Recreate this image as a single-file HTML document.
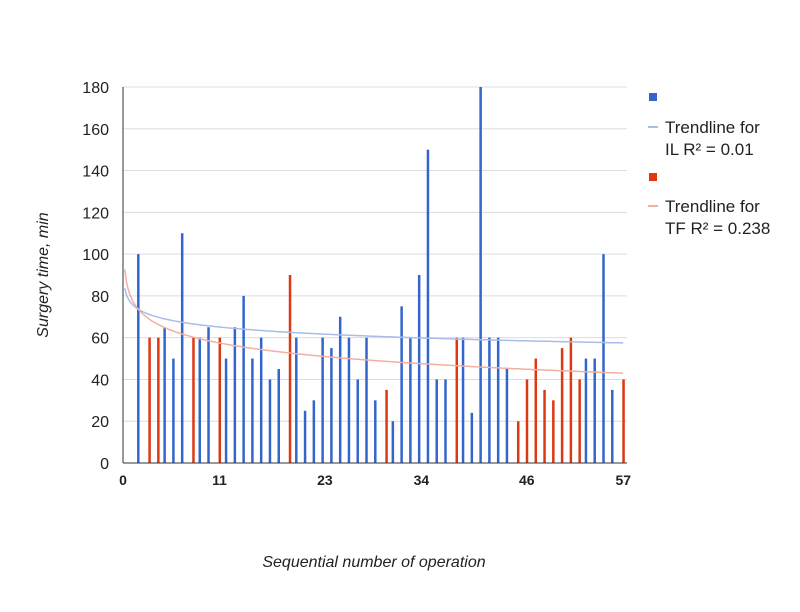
<!DOCTYPE html>
<html><head><meta charset="utf-8"><style>
body{margin:0;background:#fff;font-family:"Liberation Sans",sans-serif}
svg{display:block}
</style></head><body>
<svg id="chart" width="800" height="612" xmlns="http://www.w3.org/2000/svg">
<g id="grid"></g>
<g id="ylab" font-size="16" fill="#222" text-anchor="end"></g>
<g id="xlab" font-size="14" font-weight="bold" fill="#222" text-anchor="middle"></g>
<g id="bars"></g>
<g id="trend"></g>
<line x1="123" y1="87" x2="123" y2="463" stroke="#333" stroke-width="1"/>
<line x1="123" y1="463" x2="627" y2="463" stroke="#333" stroke-width="1"/>
<text x="48" y="275" transform="rotate(-90 48 275)" text-anchor="middle" font-size="16" font-style="italic" fill="#222">Surgery time, min</text>
<text x="374" y="567" text-anchor="middle" font-size="16" font-style="italic" fill="#222">Sequential number of operation</text>
<g font-size="17" fill="#222">
<rect x="649" y="93" width="8" height="8" fill="#3366cc"/>
<line x1="648" y1="127" x2="658" y2="127" stroke="#a9bde8" stroke-width="2"/>
<text x="665" y="133">Trendline for</text>
<text x="665" y="155">IL R² = 0.01</text>
<rect x="649" y="173" width="8" height="8" fill="#dc3912"/>
<line x1="648" y1="206" x2="658" y2="206" stroke="#f2b0a0" stroke-width="2"/>
<text x="665" y="212">Trendline for</text>
<text x="665" y="234">TF R² = 0.238</text>
</g>
</svg>
<script>
const ilX=[2,5,6,7,9,10,12,13,14,15,16,17,18,20,21,22,23,24,25,26,27,28,29,31,32,33,34,35,36,37,39,40,41,42,43,44,53,54,55,56];
const ilY=[100,65,50,110,60,65,50,65,80,50,60,40,45,60,25,30,60,55,70,60,40,60,30,20,75,60,90,150,40,40,60,24,180,60,60,45,50,50,100,35];
const tfX=[3,4,8,11,19,30,38,45,46,47,48,49,50,51,52,57];
const tfY=[60,60,60,60,90,35,60,20,40,50,35,30,55,60,40,40];
const yTicks=[0,20,40,60,80,100,120,140,160,180];
const xTicks=[0,11,23,34,46,57];
const ilTrend=[76.2,-4.63];
const tfTrend=[78.5,-8.78];
const NS='http://www.w3.org/2000/svg';
const X=v=>123+v*(500.3/57);
const Y=v=>463-v*(376/180);
function mk(t,a,p){const e=document.createElementNS(NS,t);for(const k in a)e.setAttribute(k,a[k]);p.appendChild(e);return e;}
const grid=document.getElementById('grid'),yl=document.getElementById('ylab'),xl=document.getElementById('xlab'),bars=document.getElementById('bars'),tr=document.getElementById('trend');
yTicks.forEach(t=>{
 if(t>0){const g=mk('line',{x1:123,x2:627,y1:Y(t),y2:Y(t),stroke:'#ddd','stroke-width':1},grid);
 
 }
 const l=mk('text',{x:109,y:Y(t)+6},yl);l.textContent=t;
 
 
});
xTicks.forEach(t=>{const l=mk('text',{x:X(t),y:485},xl);l.textContent=t;
 
 });
ilX.forEach((x,i)=>{const r=mk('rect',{x:X(x)-3.5,y:Y(ilY[i]),width:2.5,height:463-Y(ilY[i]),fill:'#3366cc'},bars);
 
 });
tfX.forEach((x,i)=>{const r=mk('rect',{x:X(x)-1,y:Y(tfY[i]),width:2.5,height:463-Y(tfY[i]),fill:'#dc3912'},bars);
 
 });
function trend(c,col,name){let d='';for(let x=0.2;x<=57.001;x+=0.2){d+=(d?'L':'M')+X(x).toFixed(1)+','+Y(c[0]+c[1]*Math.log(x)).toFixed(1);}
 const p=mk('path',{d:d,fill:'none',stroke:col,'stroke-width':1.5},tr);
 
 }
trend(ilTrend,'#a9bde8','trendline-il');
trend(tfTrend,'#f2b0a0','trendline-tf');
</script>
</body></html>
